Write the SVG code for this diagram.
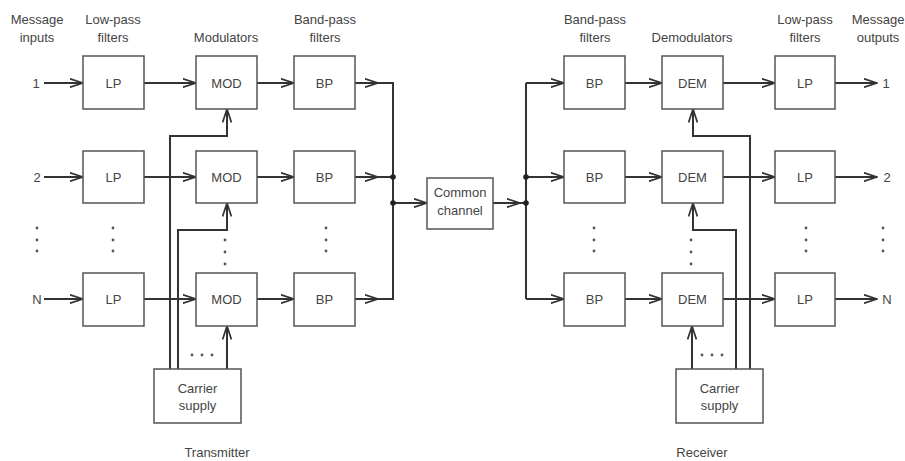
<svg xmlns="http://www.w3.org/2000/svg" width="905" height="461" viewBox="0 0 905 461">
<style>
text{font-family:"Liberation Sans",Arial,sans-serif;font-size:13px;fill:#444;text-anchor:middle}
.box{fill:#fff;stroke:#555;stroke-width:1.5}
.ln{fill:none;stroke:#333;stroke-width:2}
.ar{fill:none;stroke:#333;stroke-width:2;marker-end:url(#ah)}
.dot{fill:#555}
.jn{fill:#222}
</style>
<defs>
<marker id="ah" viewBox="0 0 14 10" refX="13.5" refY="5" markerWidth="14" markerHeight="10" markerUnits="userSpaceOnUse" orient="auto">
<path d="M0,0.6 L13.5,5 L0,9.4" fill="none" stroke="#333" stroke-width="1.7"/>
</marker>
</defs>
<rect width="905" height="461" fill="#fff"/>

<g id="headers">
<text x="37" y="24">Message</text><text x="37" y="42">inputs</text>
<text x="113" y="24">Low-pass</text><text x="113" y="42">filters</text>
<text x="226" y="42">Modulators</text>
<text x="325" y="24">Band-pass</text><text x="325" y="42">filters</text>
<text x="595" y="24">Band-pass</text><text x="595" y="42">filters</text>
<text x="692" y="42">Demodulators</text>
<text x="805" y="24">Low-pass</text><text x="805" y="42">filters</text>
<text x="878" y="24">Message</text><text x="878" y="42">outputs</text>
<text x="217" y="457">Transmitter</text>
<text x="702" y="457">Receiver</text>
</g>

<g id="labels">
<text x="36" y="88">1</text><text x="37" y="182">2</text><text x="37" y="304">N</text>
<text x="886" y="88">1</text><text x="887" y="182">2</text><text x="887" y="304">N</text>
</g>

<g id="connectors">
<!-- inputs -->
<path class="ar" d="M44,83 H83"/>
<path class="ar" d="M44,177 H83"/>
<path class="ar" d="M44,299 H83"/>
<!-- LP to MOD -->
<path class="ar" d="M144,83 H196"/>
<path class="ar" d="M144,177 H196"/>
<path class="ar" d="M144,299 H196"/>
<!-- MOD to BP -->
<path class="ar" d="M257,83 H294"/>
<path class="ar" d="M257,177 H294"/>
<path class="ar" d="M257,299 H294"/>
<!-- BP to bus -->
<path class="ar" d="M355,83 H378"/>
<path class="ar" d="M355,177 H378"/>
<path class="ar" d="M355,299 H378"/>
<path class="ln" d="M377,83 H393 V299 H377 M377,177 H393"/>
<!-- bus to common channel -->
<path class="ar" d="M393,203 H427"/>
<path class="ar" d="M493,203 H520"/>
<path class="ln" d="M519,203 H526"/>
<!-- right bus -->
<path class="ln" d="M526,83 V299"/>
<path class="ar" d="M526,83 H564"/>
<path class="ar" d="M526,177 H564"/>
<path class="ar" d="M526,299 H564"/>
<!-- BP to DEM -->
<path class="ar" d="M625,83 H662"/>
<path class="ar" d="M625,177 H662"/>
<path class="ar" d="M625,299 H662"/>
<!-- DEM to LP -->
<path class="ar" d="M723,83 H775"/>
<path class="ar" d="M723,177 H775"/>
<path class="ar" d="M723,299 H775"/>
<!-- outputs -->
<path class="ar" d="M835,83 H877"/>
<path class="ar" d="M835,177 H877"/>
<path class="ar" d="M835,299 H877"/>
<!-- transmitter carriers -->
<path class="ar" d="M170,369 V136 H227 V109"/>
<path class="ar" d="M178,369 V230 H227 V203"/>
<path class="ar" d="M227,369 V326"/>
<!-- receiver carriers -->
<path class="ar" d="M750,369 V136 H693 V109"/>
<path class="ar" d="M736,369 V230 H693 V203"/>
<path class="ar" d="M692,369 V326"/>
<!-- junction dots -->
<circle class="jn" cx="393" cy="177" r="2.8"/>
<circle class="jn" cx="393" cy="203" r="2.8"/>
<circle class="jn" cx="526" cy="177" r="2.8"/>
<circle class="jn" cx="526" cy="203" r="2.8"/>
</g>

<g id="lp1"><rect class="box" x="83" y="56" width="61" height="53"/><text x="113.5" y="88">LP</text></g>
<g id="lp2"><rect class="box" x="83" y="151" width="61" height="52"/><text x="113.5" y="182">LP</text></g>
<g id="lpN"><rect class="box" x="83" y="273" width="61" height="53"/><text x="113.5" y="304">LP</text></g>
<g id="mod1"><rect class="box" x="196" y="56" width="61" height="53"/><text x="226.5" y="88">MOD</text></g>
<g id="mod2"><rect class="box" x="196" y="151" width="61" height="52"/><text x="226.5" y="182">MOD</text></g>
<g id="modN"><rect class="box" x="196" y="273" width="61" height="53"/><text x="226.5" y="304">MOD</text></g>
<g id="bp1"><rect class="box" x="294" y="56" width="61" height="53"/><text x="324.5" y="88">BP</text></g>
<g id="bp2"><rect class="box" x="294" y="151" width="61" height="52"/><text x="324.5" y="182">BP</text></g>
<g id="bpN"><rect class="box" x="294" y="273" width="61" height="53"/><text x="324.5" y="304">BP</text></g>
<g id="channel"><rect class="box" x="427" y="178" width="66" height="51"/><text x="460" y="197">Common</text><text x="460" y="215">channel</text></g>
<g id="rbp1"><rect class="box" x="564" y="56" width="61" height="53"/><text x="594.5" y="88">BP</text></g>
<g id="rbp2"><rect class="box" x="564" y="151" width="61" height="52"/><text x="594.5" y="182">BP</text></g>
<g id="rbpN"><rect class="box" x="564" y="273" width="61" height="53"/><text x="594.5" y="304">BP</text></g>
<g id="dem1"><rect class="box" x="662" y="56" width="61" height="53"/><text x="692.5" y="88">DEM</text></g>
<g id="dem2"><rect class="box" x="662" y="151" width="61" height="52"/><text x="692.5" y="182">DEM</text></g>
<g id="demN"><rect class="box" x="662" y="273" width="61" height="53"/><text x="692.5" y="304">DEM</text></g>
<g id="rlp1"><rect class="box" x="775" y="56" width="60" height="53"/><text x="805" y="88">LP</text></g>
<g id="rlp2"><rect class="box" x="775" y="151" width="60" height="52"/><text x="805" y="182">LP</text></g>
<g id="rlpN"><rect class="box" x="775" y="273" width="60" height="53"/><text x="805" y="304">LP</text></g>
<g id="txcarrier"><rect class="box" x="154" y="369" width="87" height="54"/><text x="197.5" y="393">Carrier</text><text x="197.5" y="410">supply</text></g>
<g id="rxcarrier"><rect class="box" x="676" y="369" width="87" height="54"/><text x="719.5" y="393">Carrier</text><text x="719.5" y="410">supply</text></g>

<g id="ellipses">
<circle class="dot" cx="37" cy="228" r="1.4"/><circle class="dot" cx="37" cy="240" r="1.4"/><circle class="dot" cx="37" cy="251" r="1.4"/>
<circle class="dot" cx="113" cy="228" r="1.4"/><circle class="dot" cx="113" cy="240" r="1.4"/><circle class="dot" cx="113" cy="251" r="1.4"/>
<circle class="dot" cx="225" cy="240" r="1.4"/><circle class="dot" cx="225" cy="252" r="1.4"/><circle class="dot" cx="225" cy="264" r="1.4"/>
<circle class="dot" cx="326" cy="228" r="1.4"/><circle class="dot" cx="326" cy="240" r="1.4"/><circle class="dot" cx="326" cy="251" r="1.4"/>
<circle class="dot" cx="594" cy="228" r="1.4"/><circle class="dot" cx="594" cy="240" r="1.4"/><circle class="dot" cx="594" cy="251" r="1.4"/>
<circle class="dot" cx="691" cy="240" r="1.4"/><circle class="dot" cx="691" cy="252" r="1.4"/><circle class="dot" cx="691" cy="264" r="1.4"/>
<circle class="dot" cx="806" cy="228" r="1.4"/><circle class="dot" cx="806" cy="240" r="1.4"/><circle class="dot" cx="806" cy="251" r="1.4"/>
<circle class="dot" cx="883" cy="228" r="1.4"/><circle class="dot" cx="883" cy="240" r="1.4"/><circle class="dot" cx="883" cy="251" r="1.4"/>
<circle class="dot" cx="192" cy="355" r="1.4"/><circle class="dot" cx="202" cy="355" r="1.4"/><circle class="dot" cx="212" cy="355" r="1.4"/>
<circle class="dot" cx="702" cy="355" r="1.4"/><circle class="dot" cx="712" cy="355" r="1.4"/><circle class="dot" cx="722" cy="355" r="1.4"/>
</g>
</svg>
